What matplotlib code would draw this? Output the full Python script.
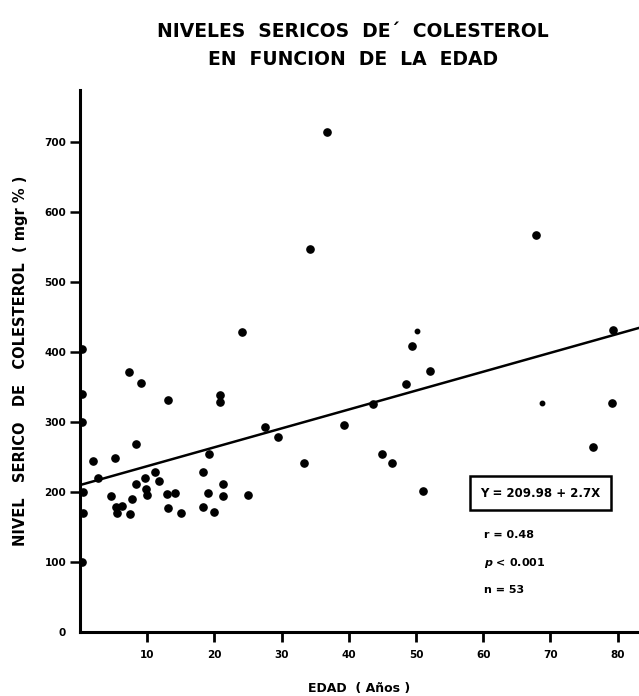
import numpy as np
import matplotlib
matplotlib.use('Agg')
import matplotlib.pyplot as plt

# edad (años) y colesterol serico (mgr %)
edad = [0.3, 0.3, 0.3, 0.5, 0.5, 0.3,
        7.3, 9.1, 13.1, 20.9, 20.9, 8.3, 1.9, 5.2, 2.7, 19.2,
        11.2, 11.7, 18.3, 8.4, 9.7, 9.8, 9.9, 21.3, 21.3, 4.6,
        7.7, 12.9, 14.1, 19.1, 5.4, 6.2, 5.5, 7.4, 13.1, 15.0,
        18.3, 19.9, 24.1, 27.5, 29.4, 39.3, 43.6, 33.3, 25.0,
        49.4, 52.1, 48.5, 79.2, 76.3, 45.0, 46.4, 51.1,
        36.8, 34.2, 67.9, 79.4]
colesterol = [405, 340, 300, 200, 170, 100,
              372, 356, 332, 339, 329, 268, 245, 248, 220, 255,
              229, 216, 228, 212, 220, 205, 196, 211, 194, 194,
              190, 197, 198, 198, 179, 180, 170, 169, 177, 170,
              179, 171, 429, 293, 279, 296, 326, 242, 196,
              409, 373, 354, 327, 264, 254, 242, 202,
              715, 547, 568, 432]
# puntos pequeños
edad_chicos = [50.2, 68.7]
colesterol_chicos = [430, 328]

intercepto = 209.98
pendiente = 2.7

x_ticks = [10, 20, 30, 40, 50, 60, 70, 80]
y_ticks = [0, 100, 200, 300, 400, 500, 600, 700]

fig = plt.figure(figsize=(6.39, 6.96), dpi=100)
ax = fig.add_axes([0.1252, 0.092, 0.8748, 0.779])

ax.plot(edad, colesterol, 'o', color='black', markersize=5.2, zorder=3)
ax.plot(edad_chicos, colesterol_chicos, 'o', color='black', markersize=3.2, zorder=3)

xs = np.linspace(0, 83.5, 50)
ax.plot(xs, intercepto + pendiente * xs, color='black', linewidth=1.8, zorder=2)

ax.set_xlim(0, 83.2)
ax.set_ylim(0, 775)

for s in ['top', 'right']:
    ax.spines[s].set_visible(False)
for s in ['left', 'bottom']:
    ax.spines[s].set_linewidth(2.2)

ax.set_xticks(x_ticks)
ax.set_xticklabels([str(t) for t in x_ticks], fontsize=7.5, fontweight='bold')
ax.set_yticks(y_ticks)
ax.set_yticklabels([str(t) for t in y_ticks], fontsize=7.5, fontweight='bold')
ax.tick_params(axis='x', direction='out', length=7, width=2, pad=6)
ax.tick_params(axis='y', direction='out', length=7, width=1.8, pad=3)
ax.yaxis.get_major_ticks()[0].tick1line.set_visible(False)

ax.set_xlabel('EDAD  ( Años )', fontsize=9, fontweight='bold', labelpad=16)
ax.set_ylabel('NIVEL   SERICO   DE   COLESTEROL  ( mgr % )', fontsize=10.5,
              fontweight='bold', labelpad=12)

fig.text(0.553, 0.955, 'NIVELES  SERICOS  DE´  COLESTEROL', ha='center', va='center',
         fontsize=13.5, fontweight='bold')
fig.text(0.553, 0.915, 'EN  FUNCION  DE  LA  EDAD', ha='center', va='center',
         fontsize=13.5, fontweight='bold')

ax.text(0.716, 0.256, 'Y = 209.98 + 2.7X', transform=ax.transAxes,
        fontsize=8.5, fontweight='bold', va='center', ha='left',
        bbox=dict(boxstyle='square,pad=0.9', facecolor='white',
                  edgecolor='black', linewidth=1.8))
ax.text(0.722, 0.178, 'r = 0.48', transform=ax.transAxes, fontsize=8,
        fontweight='bold', va='center')
ax.text(0.722, 0.127, r'$\boldsymbol{p}$ < 0.001', transform=ax.transAxes, fontsize=8,
        fontweight='bold', va='center')
ax.text(0.722, 0.077, 'n = 53', transform=ax.transAxes, fontsize=8,
        fontweight='bold', va='center')

fig.savefig('out.png', dpi=100)
